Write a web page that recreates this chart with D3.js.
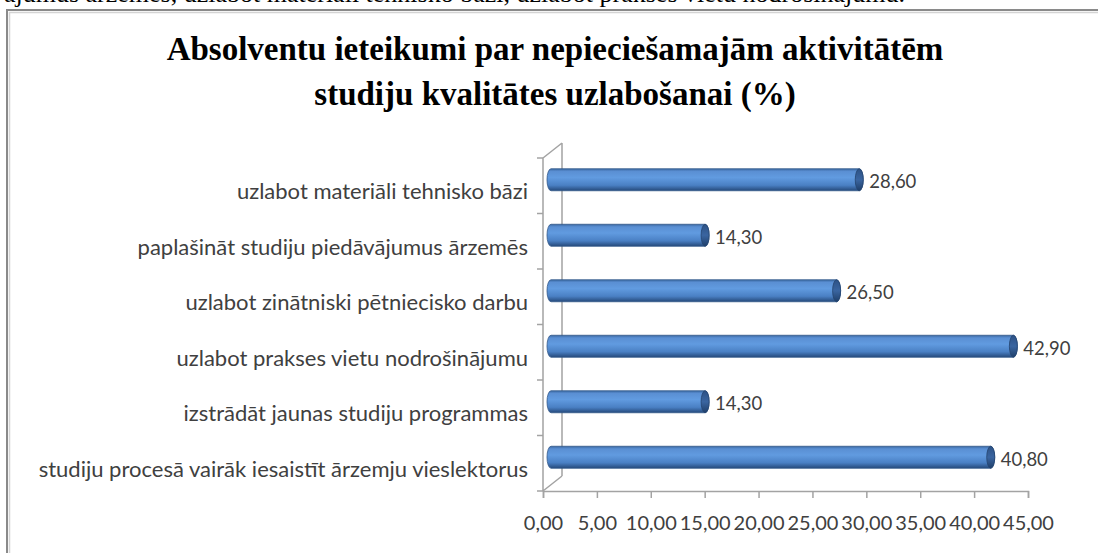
<!DOCTYPE html>
<meta charset="utf-8">
<style>
body { margin: 0; background: #fff; }
svg { display: block; }
.title { font-family: "Liberation Serif", serif; font-weight: bold; font-size: 33px; fill: #000; }
.cat { font-family: Lato, sans-serif; font-size: 22px; fill: #404040; }
.val { font-family: Lato, sans-serif; font-size: 18.5px; fill: #404040; }
.tick text { font-family: Lato, sans-serif; font-size: 20px; fill: #404040; }
.wall { fill: none; stroke: #a3a3a3; stroke-width: 1.5; }
</style>
<svg width="1098" height="553"></svg>
<script src="https://cdn.jsdelivr.net/npm/d3@7"></script>
<script>

var categories = [
  "uzlabot materiāli tehnisko bāzi",
  "paplašināt studiju piedāvājumus ārzemēs",
  "uzlabot zinātniski pētniecisko darbu",
  "uzlabot prakses vietu nodrošinājumu",
  "izstrādāt jaunas studiju programmas",
  "studiju procesā vairāk iesaistīt ārzemju vieslektorus"
];
var values = [28.6, 14.3, 26.5, 42.9, 14.3, 40.8];
var tickValues = [0, 5, 10, 15, 20, 25, 30, 35, 40, 45];
var titleLines = [
  "Absolventu ieteikumi par nepieciešamajām aktivitātēm",
  "studiju kvalitātes uzlabošanai (%)"
];
var topText = "piedāvājumus ārzemēs, uzlabot materiāli tehnisko bāzi, uzlabot prakses vietu nodrošinājumu.";

var svg = d3.select("svg");

var lv = d3.formatLocale({ decimal: ",", thousands: " ", grouping: [3], currency: ["", ""] });
var fmt = lv.format(".2f");

// depth of the 3d box
var depth = { dx: 19, dy: -15 };

var x = d3.scaleLinear()
    .domain([0, 45])
    .range([543, 1028]);

var y = d3.scaleBand()
    .domain(categories)
    .range([158, 491]);

// cut off line of document text above the chart
svg.append("text")
    .attr("x", 905)
    .attr("y", 2)
    .attr("text-anchor", "end")
    .style("font-family", "Liberation Serif, serif")
    .style("font-size", "26px")
    .text(topText);

// chart frame
svg.append("path")
    .attr("d", "M7,553V10H1098")
    .attr("fill", "none")
    .attr("stroke", "#8a8a8a")
    .attr("stroke-width", 2);
svg.append("path")
    .attr("d", "M9.5,553V12.5H1098")
    .attr("fill", "none")
    .attr("stroke", "#d4d4d4")
    .attr("stroke-width", 1.5);

// title
svg.selectAll(".title")
    .data(titleLines)
  .enter().append("text")
    .attr("class", "title")
    .attr("x", 555)
    .attr("y", function(d, i) { return 60 + i * 45; })
    .attr("text-anchor", "middle")
    .text(function(d) { return d; });

// gradient for the cylinders
var defs = svg.append("defs");
var grad = defs.append("linearGradient")
    .attr("id", "cyl")
    .attr("x1", 0).attr("y1", 0).attr("x2", 0).attr("y2", 1);
[["0%", "#3a68a3"], ["12%", "#5a8fd3"], ["40%", "#619be0"], ["75%", "#4a80c4"], ["100%", "#25497a"]]
  .forEach(function(s) { grad.append("stop").attr("offset", s[0]).attr("stop-color", s[1]); });
var capGrad = defs.append("linearGradient")
    .attr("id", "cap")
    .attr("x1", 0).attr("y1", 0).attr("x2", 0).attr("y2", 1);
[["0%", "#2d5286"], ["50%", "#3a65a0"], ["100%", "#1f3f6a"]]
  .forEach(function(s) { capGrad.append("stop").attr("offset", s[0]).attr("stop-color", s[1]); });

// left wall and floor edge
var y0 = y.range()[0], y1 = y.range()[1], x0 = x(0);
var walls = svg.append("g").attr("class", "wall");
walls.append("path")
    .attr("d", "M" + x0 + "," + y0 + "V" + y1 +
               "M" + (x0 + depth.dx) + "," + (y0 + depth.dy) + "V" + (y1 + depth.dy) +
               "M" + x0 + "," + y0 + "L" + (x0 + depth.dx) + "," + (y0 + depth.dy) +
               "M" + x0 + "," + y1 + "L" + (x0 + depth.dx) + "," + (y1 + depth.dy));

// category ticks on the front edge
walls.selectAll(".ctick")
    .data(d3.range(categories.length + 1))
  .enter().append("path")
    .attr("d", function(i) { var yy = y0 + i * y.step(); return "M" + (x0 - 6) + "," + yy + "H" + x0; });

// value axis
var xAxis = d3.axisBottom(x)
    .tickValues(tickValues)
    .tickSize(7)
    .tickPadding(18)
    .tickFormat(fmt);

var gx = svg.append("g")
    .attr("transform", "translate(0," + y1 + ")")
    .call(xAxis);
gx.select(".domain").attr("stroke", "#a3a3a3").attr("stroke-width", 1.5);
gx.selectAll(".tick line").attr("stroke", "#a3a3a3").attr("stroke-width", 1.5);
gx.selectAll(".tick text").attr("fill", "#404040");

// category labels
svg.selectAll(".cat")
    .data(categories)
  .enter().append("text")
    .attr("class", "cat")
    .attr("x", 528)
    .attr("y", function(d) { return y(d) + y.bandwidth() / 2 + 6; })
    .attr("dy", "0.35em")
    .attr("text-anchor", "end")
    .text(function(d) { return d; });

// cylinders
var bh = 22, rx = 4;
var bars = svg.selectAll(".bar")
    .data(values)
  .enter().append("g")
    .attr("class", "bar")
    .attr("transform", function(d, i) {
      return "translate(8," + (y(categories[i]) + y.bandwidth() / 2 - 6) + ")";
    });

bars.append("path")
    .attr("d", function(d) {
      var a = x(0), b = x(d), r = bh / 2;
      return "M" + a + "," + (-r) + "H" + b +
             "A" + rx + "," + r + " 0 0 1 " + b + "," + r +
             "H" + a +
             "A" + rx + "," + r + " 0 0 1 " + a + "," + (-r) + "Z";
    })
    .attr("fill", "url(#cyl)")
    .attr("stroke", "#34598a")
    .attr("stroke-width", 0.8);

bars.append("ellipse")
    .attr("cx", function(d) { return x(d); })
    .attr("cy", 0)
    .attr("rx", rx)
    .attr("ry", bh / 2)
    .attr("fill", "url(#cap)")
    .attr("stroke", "#24446f")
    .attr("stroke-width", 0.8);

// value labels
bars.append("text")
    .attr("class", "val")
    .attr("x", function(d) { return x(d) + rx + 6; })
    .attr("y", 2)
    .attr("dy", "0.35em")
    .text(function(d) { return fmt(d); });

</script>
